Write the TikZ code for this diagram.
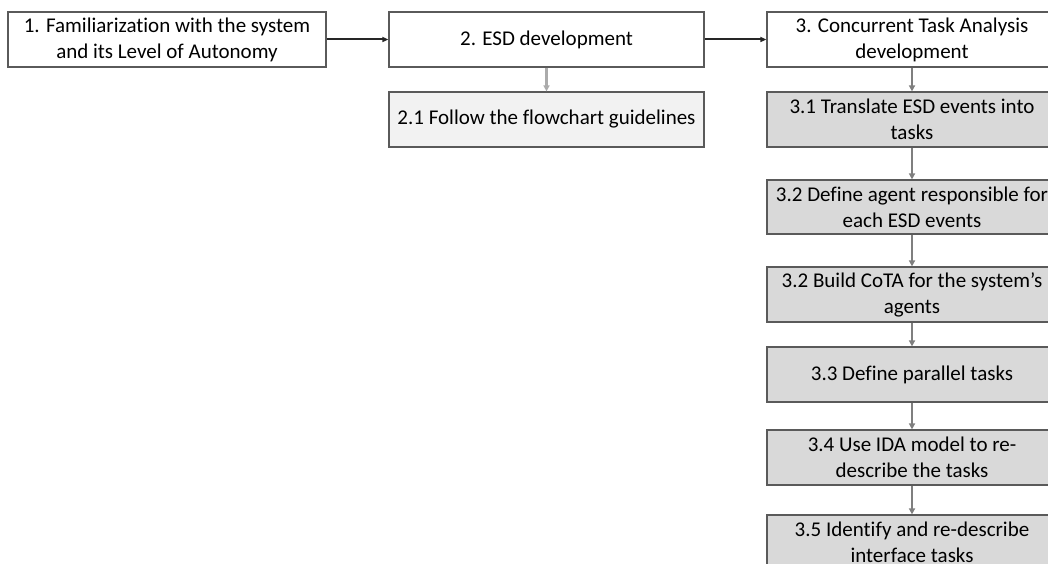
\documentclass[tikz,border=0pt]{standalone}
\usepackage{fontspec}
\setmainfont{Carlito}[Ligatures=NoCommon]
\usetikzlibrary{arrows.meta}
\definecolor{bord}{HTML}{5A5A5A}
\definecolor{fillA}{HTML}{F2F2F2}
\definecolor{fillB}{HTML}{D9D9D9}
\definecolor{arrG}{HTML}{7F7F7F}
\definecolor{arrL}{HTML}{ABABAB}
\begin{document}
\begin{tikzpicture}[x=1pt,y=-1pt,
  box/.style={draw=bord,line width=1.2pt,inner sep=0pt,align=center,
    font=\fontsize{21}{26}\selectfont,minimum height=55pt},
  wbox/.style={box,fill=white},
  lbox/.style={box,fill=fillA},
  gbox/.style={box,fill=fillB,minimum width=290pt},
  blk/.style={draw=black!85,line width=2pt,-{Triangle[length=6pt,width=5pt]}},
  gar/.style={draw=arrG,line width=2.2pt,-{Triangle[length=6pt,width=6pt]}},
  lar/.style={draw=arrL,line width=2.2pt,-{Triangle[length=6pt,width=6pt]}}]
\useasboundingbox (0,0) rectangle (1048,564);
\begin{scope}
\clip (0,0) rectangle (1048,564);
\node[wbox,minimum width=318pt] (n1) at (167,39.5) {1. Familiarization with the system\\and its Level of Autonomy};
\node[wbox,minimum width=315pt] (n2) at (546.5,39.5) {2. ESD development};
\node[lbox,minimum width=315pt] (n21) at (546.5,119.5) {2.1 Follow the flowchart guidelines};
\node[wbox,minimum width=290pt] (n3) at (912,39.5) {3. Concurrent Task Analysis\\development};
\node[gbox] (n31) at (912,119.5) {3.1 Translate ESD events into\\tasks};
\node[gbox,minimum height=54pt] (n32) at (912,207) {3.2 Define agent responsible for\\each ESD events};
\node[gbox] (n32b) at (912,294.5) {3.2 Build CoTA for the system’s\\agents};
\node[gbox] (n33) at (912,374.5) {3.3 Define parallel tasks};
\node[gbox] (n34) at (912,457.5) {3.4 Use IDA model to re-\\describe the tasks};
\node[gbox] (n35) at (912,542.5) {3.5 Identify and re-describe\\interface tasks};
\draw[blk] (n1) -- (n2);
\draw[blk] (n2) -- (n3);
\draw[lar] (n2) -- (n21);
\draw[gar] (n3) -- (n31);
\draw[gar] (n31) -- (n32);
\draw[gar] (n32) -- (n32b);
\draw[gar] (n32b) -- (n33);
\draw[gar] (n33) -- (n34);
\draw[gar] (n34) -- (n35);
\end{scope}
\end{tikzpicture}
\end{document}
